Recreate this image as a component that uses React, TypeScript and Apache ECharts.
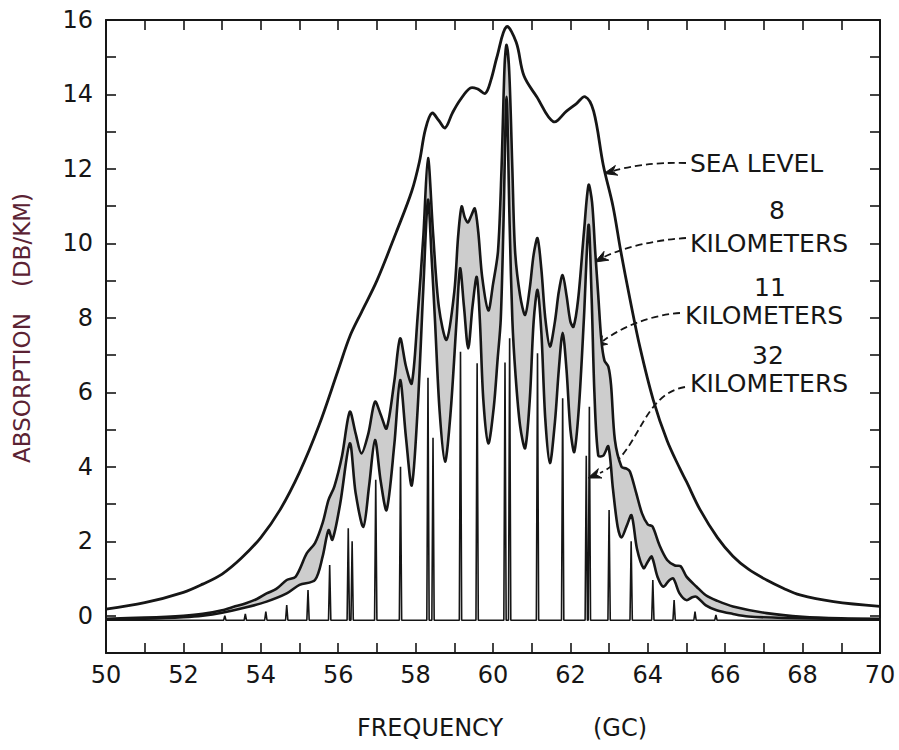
import React, { useEffect, useRef } from "react";
import * as echarts from "echarts";

// ---------- data ----------
// frequency (GC), absorption (DB/KM)
const SEA_LEVEL: number[][] = [
  [50, 0.18], [51, 0.35], [52, 0.63], [52.5, 0.85], [53, 1.12], [53.5, 1.55], [54, 2.1],
  [54.5, 2.85], [55, 3.85], [55.5, 5.1], [56, 6.6], [56.3, 7.5], [56.6, 8.15], [57, 9.0],
  [57.5, 10.3], [57.9, 11.4], [58.1, 12.2], [58.25, 13.05], [58.42, 13.5], [58.6, 13.3],
  [58.76, 13.1], [58.95, 13.5], [59.15, 13.85], [59.41, 14.17], [59.6, 14.15], [59.8, 14.03],
  [59.95, 14.4], [60.1, 15.0], [60.35, 15.82], [60.6, 15.4], [60.8, 14.5], [61.13, 13.94],
  [61.56, 13.27], [61.9, 13.55], [62.15, 13.75], [62.38, 13.94], [62.6, 13.55], [62.85, 12.1],
  [63.1, 11.0], [63.3, 9.8], [63.54, 8.5], [63.8, 7.2], [64.14, 5.8], [64.5, 4.7],
  [64.83, 3.95], [65.0, 3.6], [65.35, 2.85], [65.8, 2.1], [66.2, 1.6], [66.6, 1.25],
  [67.07, 0.96], [67.5, 0.74], [67.93, 0.56], [68.8, 0.38], [70, 0.25],
];

const UPPER_8KM: number[][] = [
  [50, -0.08], [51, -0.05], [52, 0.0], [52.5, 0.05], [53, 0.15], [53.3, 0.24], [53.6, 0.33],
  [53.9, 0.45], [54.15, 0.6], [54.4, 0.72], [54.67, 0.96], [54.9, 1.05], [55.19, 1.68],
  [55.4, 1.95], [55.6, 2.5], [55.75, 3.11], [55.9, 3.47], [56.1, 4.3], [56.3, 5.48],
  [56.45, 4.9], [56.6, 4.36], [56.78, 4.9], [56.95, 5.75], [57.1, 5.4], [57.25, 5.03],
  [57.45, 6.3], [57.6, 7.45], [57.75, 6.7], [57.9, 6.24], [58.05, 8.0], [58.2, 10.2],
  [58.32, 12.29], [58.45, 10.3], [58.6, 8.3], [58.8, 7.41], [59.0, 8.7], [59.1, 10.2],
  [59.19, 10.99], [59.27, 10.7], [59.35, 10.56], [59.44, 10.75], [59.53, 10.94], [59.62, 10.3],
  [59.72, 9.1], [59.88, 8.2], [60.0, 8.9], [60.13, 9.8], [60.22, 12.0], [60.3, 14.8],
  [60.35, 15.33], [60.42, 14.6], [60.5, 12.0], [60.57, 9.8], [60.7, 8.6], [60.83, 8.08],
  [60.95, 8.8], [61.05, 9.7], [61.15, 10.14], [61.25, 9.3], [61.35, 8.0], [61.47, 7.23],
  [61.6, 7.9], [61.7, 8.7], [61.8, 9.15], [61.9, 8.6], [62.0, 7.9], [62.08, 7.76],
  [62.2, 8.5], [62.35, 10.3], [62.47, 11.57], [62.56, 11.1], [62.64, 9.8], [62.72, 8.6],
  [62.8, 7.4], [62.88, 6.85], [62.98, 6.69], [63.05, 6.2], [63.15, 4.72], [63.32, 4.0],
  [63.45, 3.95], [63.54, 3.87], [63.7, 3.3], [63.85, 2.75], [64.0, 2.45], [64.12, 2.4],
  [64.3, 1.9], [64.5, 1.5], [64.7, 1.35], [64.85, 1.33], [65.0, 1.05], [65.26, 0.78],
  [65.5, 0.55], [65.8, 0.4], [66.2, 0.25], [67.07, 0.07], [68, -0.03], [69, -0.07], [70, -0.08],
];

const LOWER_11KM: number[][] = [
  [50, -0.1], [51, -0.08], [52, -0.04], [52.5, 0.0], [53, 0.08], [53.6, 0.22], [54.15, 0.38],
  [54.67, 0.6], [55.0, 0.83], [55.4, 0.96], [55.6, 1.6], [55.75, 2.3], [55.85, 2.04],
  [56.05, 3.0], [56.3, 4.63], [56.45, 3.3], [56.65, 2.39], [56.8, 3.5], [56.95, 4.72],
  [57.1, 3.6], [57.25, 2.84], [57.45, 4.6], [57.6, 6.33], [57.75, 4.8], [57.9, 3.5],
  [58.05, 5.5], [58.2, 8.8], [58.32, 11.17], [58.42, 9.5], [58.5, 7.95], [58.62, 5.5],
  [58.76, 4.14], [58.9, 5.4], [59.06, 7.95], [59.15, 9.33], [59.25, 8.3], [59.36, 7.18],
  [59.47, 8.3], [59.58, 9.1], [59.66, 7.95], [59.75, 5.8], [59.88, 4.63], [60.02, 5.6],
  [60.12, 6.9], [60.2, 7.95], [60.27, 10.5], [60.35, 13.94], [60.43, 10.5], [60.5, 7.95],
  [60.58, 6.5], [60.7, 5.1], [60.83, 4.5], [60.95, 5.8], [61.05, 7.9], [61.15, 8.75],
  [61.25, 7.6], [61.35, 5.3], [61.47, 4.1], [61.6, 5.2], [61.7, 6.6], [61.8, 7.6],
  [61.9, 6.6], [62.0, 5.0], [62.1, 4.4], [62.22, 5.6], [62.35, 8.0], [62.47, 10.5],
  [62.55, 8.5], [62.62, 6.0], [62.72, 4.3], [62.85, 4.3], [62.98, 4.55], [63.1, 3.4],
  [63.22, 2.4], [63.32, 2.1], [63.45, 2.4], [63.58, 2.7], [63.72, 1.8], [63.89, 1.28],
  [64.0, 1.45], [64.1, 1.59], [64.25, 1.05], [64.4, 0.78], [64.55, 0.95], [64.66, 1.0],
  [64.82, 0.6], [65.0, 0.42], [65.15, 0.5], [65.26, 0.51], [65.5, 0.28], [65.78, 0.15],
  [66.2, 0.05], [66.6, -0.02], [67.5, -0.06], [70, -0.1],
];

// 32 km: narrow line peaks over a flat floor
const BASE_32KM = -0.12;
const LINE_FREQ_32KM: number[] = [
  53.07, 53.6, 54.13, 54.67, 55.22, 55.78, 56.26, 56.36, 56.97, 57.61, 58.32, 58.45,
  59.16, 59.59, 60.31, 60.43, 61.15, 61.8, 62.41, 62.49, 63.0, 63.57, 64.13, 64.68,
  65.22, 65.76,
];
const LINE_PEAK_32KM: number[] = [
  0.0, 0.05, 0.11, 0.29, 0.69, 1.36, 2.35, 2.0, 3.65, 4.0, 6.39, 4.78,
  7.09, 6.78, 6.8, 7.45, 7.05, 5.84, 4.3, 5.61, 2.84, 2.0, 0.96, 0.42,
  0.11, 0.02,
];

const X_TICKS = { min: 50, max: 70, step: 1 };
const Y_TICKS = { min: -1, max: 16, step: 1 };

const FONT = "'DejaVu Sans', 'Noto Sans', sans-serif";
const INK = "#161616";

function arrowHead(tx: number, ty: number, fx: number, fy: number) {
  const dx = tx - fx, dy = ty - fy;
  const L = Math.hypot(dx, dy) || 1;
  const ux = dx / L, uy = dy / L;
  const nx = -uy, ny = ux;
  const bx = tx - ux * 13, by = ty - uy * 13;
  const mx = tx - ux * 9, my = ty - uy * 9;
  return [
    [tx, ty],
    [bx + nx * 5, by + ny * 5],
    [mx, my],
    [bx - nx * 5, by - ny * 5],
  ];
}

function dashed(x1: number, y1: number, cpx1: number, cpy1: number, cpx2: number, cpy2: number, x2: number, y2: number) {
  return {
    type: "bezierCurve",
    shape: { x1, y1, cpx1, cpy1, cpx2, cpy2, x2, y2 },
    style: { stroke: INK, lineWidth: 1.8, lineDash: [7, 4], fill: null },
    silent: true,
  };
}

function head(tx: number, ty: number, fx: number, fy: number) {
  return {
    type: "polygon",
    shape: { points: arrowHead(tx, ty, fx, fy) },
    style: { fill: INK, stroke: INK, lineWidth: 1 },
    silent: true,
  };
}

function label(text: string, x: number, y: number, align: string, size = 25) {
  return {
    type: "text",
    x,
    y,
    style: {
      text,
      fill: INK,
      font: `${size}px ${FONT}`,
      textAlign: align,
      textVerticalAlign: "middle",
    },
    silent: true,
  };
}

export default function App() {
  const ref = useRef<HTMLDivElement>(null);

  useEffect(() => {
    if (!ref.current) return;
    const chart = echarts.init(ref.current, undefined, { renderer: "svg" });

    const spikeData: number[][] = [[X_TICKS.min, BASE_32KM]];
    LINE_FREQ_32KM.forEach((f, i) => {
      spikeData.push([f - 0.03, BASE_32KM], [f, LINE_PEAK_32KM[i]], [f + 0.03, BASE_32KM]);
    });
    spikeData.push([X_TICKS.max, BASE_32KM]);

    const axisLine = { show: true, onZero: false, lineStyle: { color: INK, width: 2 } };
    const axisTick = { show: true, inside: true, length: 10, lineStyle: { color: INK, width: 1.6 } };

    const option: any = {
      animation: false,
      backgroundColor: "#ffffff",
      grid: { left: 106, right: 19, top: 20, bottom: 97, containLabel: false },
      xAxis: [
        {
          type: "value", position: "bottom",
          min: X_TICKS.min, max: X_TICKS.max, interval: X_TICKS.step,
          axisLine, axisTick, splitLine: { show: false },
          axisLabel: {
            margin: 10, color: INK, fontSize: 24, fontFamily: FONT,
            formatter: (v: number) => (Math.round(v) % 2 === 0 ? String(Math.round(v)) : ""),
          },
        },
        {
          type: "value", position: "top",
          min: X_TICKS.min, max: X_TICKS.max, interval: X_TICKS.step,
          axisLine, axisTick, splitLine: { show: false }, axisLabel: { show: false },
        },
      ],
      yAxis: [
        {
          type: "value", position: "left",
          min: Y_TICKS.min, max: Y_TICKS.max, interval: Y_TICKS.step,
          axisLine, axisTick, splitLine: { show: false },
          axisLabel: {
            margin: 13, color: INK, fontSize: 24, fontFamily: FONT,
            formatter: (v: number) => {
              const r = Math.round(v);
              return r >= 0 && r % 2 === 0 ? String(r) : "";
            },
          },
        },
        {
          type: "value", position: "right",
          min: Y_TICKS.min, max: Y_TICKS.max, interval: Y_TICKS.step,
          axisLine, axisTick, splitLine: { show: false }, axisLabel: { show: false },
        },
      ],
      series: [
        {
          name: "SEA LEVEL",
          type: "custom",
          coordinateSystem: "cartesian2d",
          data: [[X_TICKS.min, 0]],
          z: 4,
          silent: true,
          renderItem: (_params: any, api: any) => ({
            type: "polyline",
            shape: { points: SEA_LEVEL.map((p) => api.coord(p)), smooth: 0.35 },
            style: { stroke: INK, lineWidth: 2.8, fill: null },
          }),
        },
        {
          name: "8 / 11 KILOMETERS",
          type: "custom",
          coordinateSystem: "cartesian2d",
          data: [[X_TICKS.min, 0]],
          z: 3,
          silent: true,
          renderItem: (_params: any, api: any) => {
            const up = UPPER_8KM.map((p) => api.coord(p));
            const lo = LOWER_11KM.map((p) => api.coord(p));
            return {
              type: "group",
              children: [
                {
                  type: "polygon",
                  shape: { points: up.concat(lo.slice().reverse()), smooth: 0.3 },
                  style: { fill: "#cdcdcd", stroke: null },
                },
                {
                  type: "polyline",
                  shape: { points: up, smooth: 0.3 },
                  style: { stroke: INK, lineWidth: 2.6, fill: null },
                },
                {
                  type: "polyline",
                  shape: { points: lo, smooth: 0.3 },
                  style: { stroke: INK, lineWidth: 2.6, fill: null },
                },
              ],
            };
          },
        },
        {
          name: "32 KILOMETERS",
          type: "line",
          data: spikeData,
          symbol: "none",
          lineStyle: { color: INK, width: 1.6 },
          z: 5,
          silent: true,
        },
      ],
      graphic: [
        // axis titles
        {
          type: "text", x: 22, y: 388, rotation: Math.PI / 2,
          style: { text: "ABSORPTION", fill: "#5b2233", font: `23px ${FONT}`, textAlign: "center", textVerticalAlign: "middle" },
          silent: true,
        },
        {
          type: "text", x: 22, y: 240, rotation: Math.PI / 2,
          style: { text: "(DB/KM)", fill: "#5b2233", font: `23px ${FONT}`, textAlign: "center", textVerticalAlign: "middle" },
          silent: true,
        },
        label("FREQUENCY", 430, 728, "center", 24),
        label("(GC)", 620, 728, "center", 24),
        // curve annotations
        label("SEA LEVEL", 690, 163, "left"),
        label("8", 777, 210, "center"),
        label("KILOMETERS", 690, 243, "left"),
        label("11", 770, 287, "center"),
        label("KILOMETERS", 685, 315, "left"),
        label("32", 768, 355, "center"),
        label("KILOMETERS", 690, 383, "left"),
        dashed(686, 163, 655, 162, 630, 166, 613, 171),
        head(604, 173.5, 616, 170.5),
        dashed(686, 238, 655, 240, 625, 247, 604, 257),
        head(595, 262, 606, 256),
        dashed(680, 313, 650, 315, 620, 328, 603, 341),
        head(594, 347, 605, 340),
        dashed(685, 387, 640, 395, 640, 455, 600, 473),
        head(588, 478, 601, 473),
      ],
    };

    chart.setOption(option);
    return () => chart.dispose();
  }, []);

  return (
    <div
      ref={ref}
      style={{ position: "absolute", left: 0, top: 0, width: 899, height: 750, background: "#fff" }}
    />
  );
}
